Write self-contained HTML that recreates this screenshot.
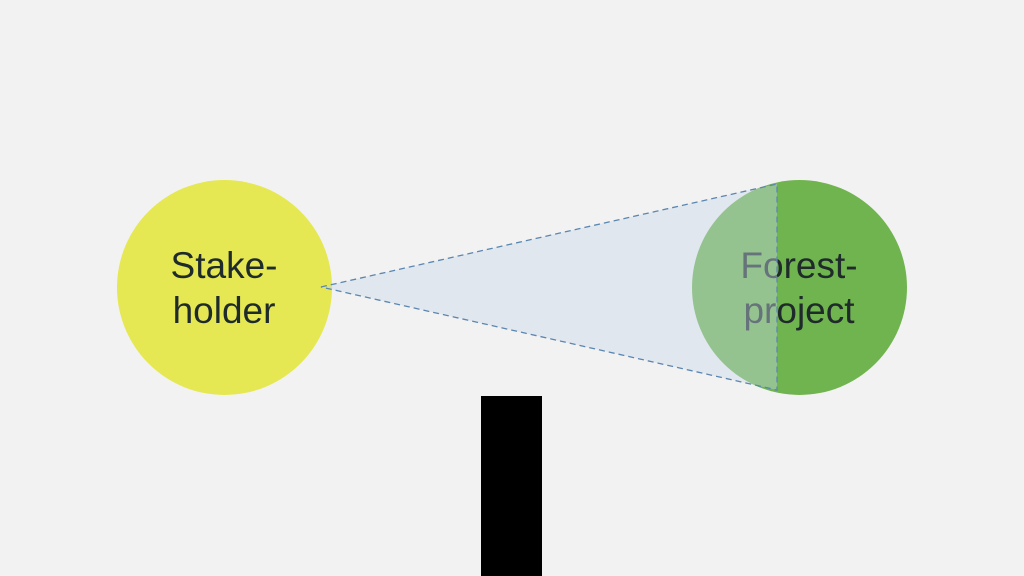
<!DOCTYPE html>
<html><head><meta charset="utf-8"><style>
html,body{margin:0;padding:0;background:#f2f2f2;width:1024px;height:576px;overflow:hidden}
svg{display:block}
</style></head><body>
<svg width="1024" height="576" viewBox="0 0 1024 576" xmlns="http://www.w3.org/2000/svg">
<rect width="1024" height="576" fill="#f2f2f2"/>
<circle cx="224.5" cy="287.5" r="107.5" fill="#e5e852"/>
<circle cx="799.5" cy="287.5" r="107.5" fill="#70b450"/>
<g font-family="Liberation Sans, DejaVu Sans, sans-serif" font-size="37" fill="#1f2a2a" text-anchor="middle">
<text x="224" y="278">Stake-</text>
<text x="224" y="323">holder</text>
<text x="799" y="278">Forest-</text>
<text x="799" y="323">project</text>
</g>
<polygon points="321,287 777,184 777,390" fill="#c9d9ea" fill-opacity="0.42" stroke="#5b86b0" stroke-width="1.3" stroke-dasharray="6,4"/>
<rect x="481" y="396" width="61" height="180" fill="#000"/>
</svg>
</body></html>
